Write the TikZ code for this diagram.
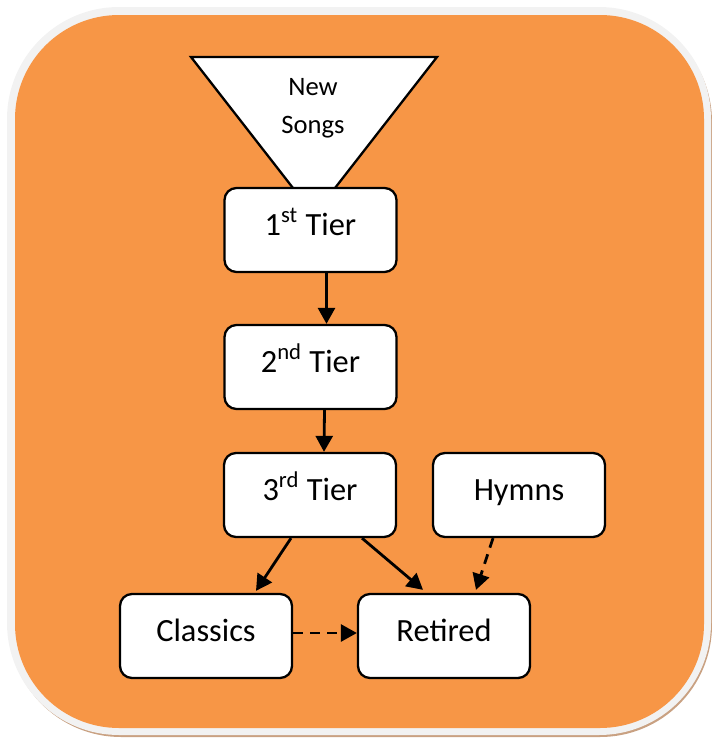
\documentclass[tikz,border=0pt]{standalone}
\usepackage{fontspec}
\setmainfont{Carlito}
\usetikzlibrary{arrows.meta}
\definecolor{orangebg}{HTML}{F79646}
\definecolor{greyrim}{HTML}{F2F2F2}
\definecolor{shadowc}{HTML}{C9A182}
\begin{document}
\begin{tikzpicture}[x=0.5pt,y=-0.5pt,
  box/.style={draw=black, line width=1.15pt, fill=white, rounded corners=6pt,
    minimum width=86pt, minimum height=42pt, inner sep=0pt,
    text height=12pt, text depth=7pt, font=\fontsize{16.2}{19}\selectfont},
  arr/.style={line width=1.4pt, -{Triangle[length=8pt,width=8.5pt]}},
  darr/.style={arr, dash pattern=on 5pt off 3.5pt}]
\useasboundingbox (0,0) rectangle (712,739);
% background panel
\fill[shadowc, rounded corners=56pt] (9,10) rectangle (712,737);
\fill[greyrim, rounded corners=56pt] (7,7) rectangle (711,735);
\fill[orangebg, rounded corners=52pt] (15,15) rectangle (704,728);
% funnel
\filldraw[fill=white, draw=black, line width=1.15pt, line join=miter]
  (191,57) -- (437,57) -- (314,215) -- cycle;
\node[align=center, anchor=base, inner sep=0pt, font=\fontsize{13.3}{19}\selectfont] (ns) at (313,133) {New\\Songs};
% boxes
\node[box] (t1) at (310.5,230) {1\textsuperscript{st} Tier};
\node[box] (t2) at (310.5,367) {2\textsuperscript{nd} Tier};
\node[box] (t3) at (310,495) {3\textsuperscript{rd} Tier};
\node[box] (hy) at (519,495) {Hymns};
\node[box] (cl) at (206,636) {Classics};
\node[box] (re) at (444,636) {Retired};
% connectors
\draw[arr] ([xshift=8pt]t1.south) -- ([xshift=8pt]t2.north);
\draw[arr] ([xshift=7pt]t2.south) -- ([xshift=7pt]t3.north);
\draw[arr] ([xshift=-9.5pt]t3.south) -- ([xshift=25pt,yshift=1pt]cl.north);
\draw[arr] ([xshift=26pt]t3.south) -- ([xshift=-10.5pt,yshift=1.5pt]re.north);
\draw[darr] ([xshift=-13pt]hy.south) -- ([xshift=16pt,yshift=1.5pt]re.north);
\draw[darr] ([yshift=1.5pt]cl.east) -- ([yshift=1.5pt]re.west);
\end{tikzpicture}
\end{document}
